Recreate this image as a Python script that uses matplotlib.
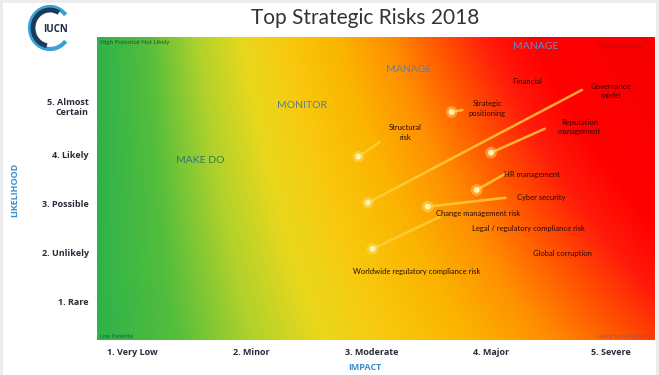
import numpy as np
import matplotlib
matplotlib.use('Agg')
import matplotlib.pyplot as plt
from matplotlib.colors import LinearSegmentedColormap
from matplotlib.patches import Rectangle, Arc

plt.rcParams['font.family'] = ['Lato', 'DejaVu Sans']
BOLD = ['Open Sans', 'DejaVu Sans']

# axes scales
impact_labels = ['1. Very Low', '2. Minor', '3. Moderate', '4. Major', '5. Severe']
likelihood_labels = ['1. Rare', '2. Unlikely', '3. Possible', '4. Likely', '5. Almost\nCertain']

# risks that have a plotted position (dot) and a leader line to their label
risk_names = ['Strategic\npositioning', 'Structural\nrisk', 'Reputation\nmanagement',
              'Governance\nmodel', 'HR management', 'Cyber security',
              'Change management risk']
risk_impact = [3.67, 2.89, 4.00, 2.97, 3.88, 3.47, 3.01]
risk_likelihood = [4.87, 3.96, 4.04, 3.02, 3.28, 2.94, 2.08]
label_x = [3.97, 3.28, 4.74, 5.00, 4.34, 4.42, 3.89]
label_y = [4.94, 4.45, 4.57, 5.30, 3.59, 3.12, 2.79]
line_end_x = [3.76, 3.07, 4.45, 4.76, 4.12, 4.12, 3.57]
line_end_y = [4.91, 4.26, 4.53, 5.32, 3.61, 3.12, 2.73]

# risks only listed as text
other_names = ['Financial', 'Legal / regulatory compliance risk', 'Global corruption',
               'Worldwide regulatory compliance risk']
other_x = [4.30, 4.31, 4.60, 3.38]
other_y = [5.49, 2.49, 1.98, 1.61]

xmin, xmax = 0.706, 5.371
ymin, ymax = 0.22, 6.40

fig = plt.figure(figsize=(6.59, 3.75), dpi=100, facecolor='#ececec')
fig.patches.append(Rectangle((3 / 659, 0), 653 / 659, 372 / 375, transform=fig.transFigure,
                             facecolor='white', edgecolor='none', zorder=-10))

ax = fig.add_axes([97 / 659, 35 / 375, 558 / 659, 303 / 375])

# heat gradient: green on the left to red at the top right
heat = LinearSegmentedColormap.from_list('heat', [
    (0.0, '#2fb34a'), (0.09, '#55be3c'), (0.18, '#b2d22b'), (0.26, '#ead81c'),
    (0.34, '#f8c80e'), (0.43, '#fbb400'), (0.52, '#ff9000'), (0.61, '#ff5500'),
    (0.70, '#ff1a0a'), (0.78, '#ff0000'), (1.0, '#f50000')])
gx, gy = np.meshgrid(np.linspace(0, 1, 400), np.linspace(0, 1, 200))
score = gx * (1 + 0.55 * gy)
ax.imshow(score, cmap=heat, vmin=0, vmax=1.55, origin='lower', aspect='auto',
          extent=[xmin, xmax, ymin, ymax], interpolation='bilinear', zorder=0)
ax.set_xlim(xmin, xmax)
ax.set_ylim(ymin, ymax)

for s in ax.spines.values():
    s.set_visible(False)
ax.set_xticks(range(1, 6))
ax.set_xticklabels(impact_labels, fontsize=6.5, fontweight='bold', color='#2a2a3a',
                   family=BOLD)
ax.set_yticks(range(1, 6))
ax.set_yticklabels(likelihood_labels, fontsize=6.5, fontweight='bold', color='#2a2a3a',
                   family=BOLD)
ax.tick_params(length=0, pad=6)

# leader lines and dots
for i in range(len(risk_names)):
    ax.plot([risk_impact[i], line_end_x[i]], [risk_likelihood[i], line_end_y[i]],
            color='#ffd040', lw=1.8, alpha=0.8, solid_capstyle='round', zorder=2)
    ax.text(label_x[i], label_y[i], risk_names[i], fontsize=5.5, color='#2a0a05',
            ha='center', va='center', linespacing=1.4, zorder=3)
ax.scatter(risk_impact, risk_likelihood, s=70, color='#ffe070', alpha=0.45,
           edgecolors='none', zorder=3)
ax.scatter(risk_impact, risk_likelihood, s=18, color='#fff4b0', edgecolors='none', zorder=4)

for name, x, y in zip(other_names, other_x, other_y):
    ax.text(x, y, name, fontsize=5.5, color='#2a0a05', ha='center', va='center', zorder=3)

# zone captions
ax.text(1.57, 3.89, 'MAKE DO', fontsize=7.5, color='#2e7a62', ha='center', va='center')
ax.text(2.42, 5.00, 'MONITOR', fontsize=7.5, color='#4d7da0', ha='center', va='center')
ax.text(3.31, 5.73, 'MANAGE', fontsize=7.5, color='#5a7fa8', ha='center', va='center')
ax.text(4.37, 6.20, 'MANAGE', fontsize=7.5, color='#7088c8', ha='center', va='center')
ax.text(0.73, 6.28, 'High Potential Not Likely', fontsize=4.5, color='#2f4f25',
        ha='left', va='center')
ax.text(5.09, 6.20, 'High Potential Likely', fontsize=3.5, color='#b01010',
        ha='center', va='center')
ax.text(0.73, 0.30, 'Low Potential', fontsize=4, color='#1f5a40', ha='left', va='center')
ax.text(5.35, 0.30, 'Likely Low Potential', fontsize=4.5, color='#9a5070',
        ha='right', va='center')

fig.text(365 / 659, 1 - 18 / 375, 'Top Strategic Risks 2018', fontsize=15,
         color='#333333', ha='center', va='center')
fig.text(365 / 659, 1 - 367 / 375, 'IMPACT', fontsize=6.5, fontweight='bold',
         color='#3a8fd0', ha='center', va='center', family=BOLD)
fig.text(15 / 659, 1 - 190 / 375, 'LIKELIHOOD', fontsize=6.5, fontweight='bold',
         color='#3a8fd0', ha='center', va='center', rotation=90, family=BOLD)

# logo
lax = fig.add_axes([25 / 659, 1 - 58 / 375, 55 / 659, 55 / 375])
lax.set_xlim(0, 55)
lax.set_ylim(55, 0)
lax.axis('off')
lax.add_patch(Arc((25, 25), 40, 42, theta1=40, theta2=320, color='#3aa0d8', lw=3))
lax.add_patch(Arc((25, 25), 34, 36, theta1=100, theta2=300, color='#1c3a5a', lw=3.5))
lax.text(30, 26, 'IUCN', fontsize=7, fontweight='bold', color='#1c2a48',
         ha='center', va='center', family=BOLD)

fig.savefig('out.png', dpi=100, facecolor=fig.get_facecolor())
